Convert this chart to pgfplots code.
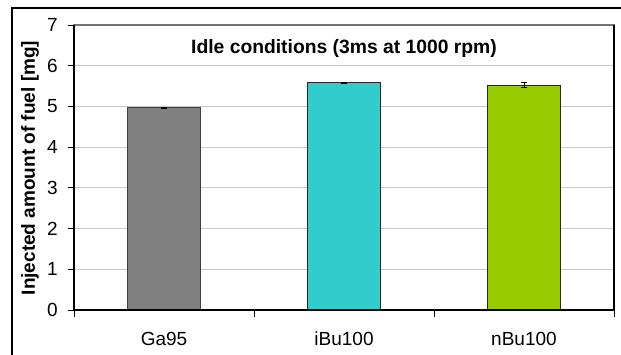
\documentclass[border=0pt]{standalone}
\usepackage{fontspec}
\setmainfont{Liberation Sans}
\usepackage{pgfplots}
\pgfplotsset{compat=1.18}
\definecolor{gbar}{HTML}{808080}
\definecolor{cbar}{HTML}{33CCCC}
\definecolor{lbar}{HTML}{99CC00}
\definecolor{gridc}{HTML}{C8C8C8}
\begin{document}
\begin{tikzpicture}[x=1pt,y=1pt]
\path[use as bounding box] (0,0) rectangle (621,354);
\draw[black,line width=1.2pt] (12,-20) -- (12,346) -- (640,346);
\begin{axis}[
  at={(74pt,44pt)}, anchor=south west,
  scale only axis, width=540pt, height=285pt,
  xmin=-0.5, xmax=2.5, ymin=0, ymax=7,
  ytick={0,1,2,3,4,5,6,7},
  xtick={0,1,2},
  xticklabels={Ga95,iBu100,nBu100},
  minor xtick={-0.5,0.5,1.5,2.5},
  tick pos=left, tick align=outside,
  major tick length=6pt, minor tick length=7pt,
  x tick style={black, line width=0.8pt},
  y tick style={black, line width=0.8pt},
  xtick style={draw=none},
  minor x tick style={draw=black, line width=0.8pt},
  ymajorgrids, grid style={gridc, line width=1pt},
  axis line style={draw=black!55, line width=1.2pt},
  ticklabel style={font=\fontsize{19}{21}\selectfont},
  xticklabel style={anchor=base, yshift=-29pt},
  yticklabel style={anchor=east, inner sep=0pt, xshift=-10pt},
  /pgf/number format/assume math mode=true,
  ybar, bar width=73pt, bar shift=0pt,
  clip=false,
]
\addplot[fill=gbar, draw=black!75, line width=1pt,
  error bars/.cd, y dir=both, y explicit,
  error bar style={black, line width=0.8pt}, error mark options={rotate=90, black, mark size=3pt, line width=0.8pt}]
  coordinates {(0,4.97) +- (0,0.01)};
\addplot[fill=cbar, draw=black!85, line width=1pt,
  error bars/.cd, y dir=both, y explicit,
  error bar style={black, line width=0.8pt}, error mark options={rotate=90, black, mark size=3pt, line width=0.8pt}]
  coordinates {(1,5.585) +- (0,0.012)};
\addplot[fill=lbar, draw=black!85, line width=1pt,
  error bars/.cd, y dir=both, y explicit,
  error bar style={black, line width=0.8pt}, error mark options={rotate=90, black, mark size=3pt, line width=0.8pt}]
  coordinates {(2,5.52) +- (0,0.06)};
\draw[black, line width=1.2pt] (rel axis cs:0,1) -- (rel axis cs:0,0) -- (rel axis cs:1,0) -- (rel axis cs:1,1);
\end{axis}
\node[anchor=base, font=\bfseries\fontsize{19.3}{21}\selectfont, inner sep=0pt] at (344,300.7) {Idle conditions (3ms at 1000 rpm)};
\node[rotate=90, font=\bfseries\fontsize{19}{21}\selectfont, inner sep=0pt] at (30,186) {Injected amount of fuel [mg]};
\end{tikzpicture}
\end{document}
